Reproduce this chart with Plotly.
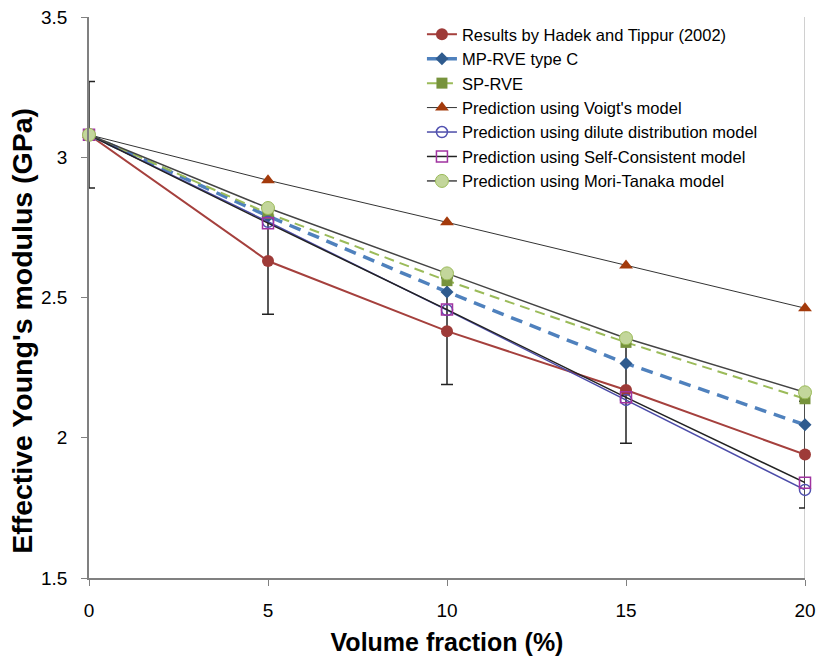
import plotly.graph_objects as go

volume_fraction = [0, 5, 10, 15, 20]
hadek = [3.08, 2.63, 2.38, 2.17, 1.94]
hadek_err = [0.19, 0.19, 0.19, 0.19, 0.19]
mp_rve_c = [3.08, 2.79, 2.52, 2.265, 2.046]
sp_rve = [3.08, 2.80, 2.56, 2.34, 2.139]
voigt = [3.08, 2.918, 2.768, 2.614, 2.462]
dilute = [3.08, 2.77, 2.455, 2.135, 1.814]
self_consistent = [3.08, 2.765, 2.457, 2.144, 1.84]
mori_tanaka = [3.08, 2.819, 2.586, 2.355, 2.162]

x_ticks = [0, 5, 10, 15, 20]
y_ticks = [1.5, 2, 2.5, 3, 3.5]
y_tick_text = ["1.5", "2", "2.5", "3", "3.5"]
x_title = "Volume fraction (%)"
y_title = "Effective Young's modulus (GPa)"

FONT = "Liberation Sans, Arial, sans-serif"

fig = go.Figure()

fig.add_trace(go.Scatter(
    x=volume_fraction, y=hadek, name="Results by Hadek and Tippur (2002)",
    mode="lines+markers", cliponaxis=False,
    line=dict(color="#A5403D", width=2),
    marker=dict(symbol="circle", size=12, color="#9E3B38"),
    error_y=dict(type="data", array=hadek_err, visible=True, color="#222222", thickness=1.5, width=6),
))
fig.add_trace(go.Scatter(
    x=volume_fraction, y=mp_rve_c, name="MP-RVE type C",
    mode="lines+markers", cliponaxis=False,
    line=dict(color="#4F81BD", width=3.5, dash="12px,8px"),
    marker=dict(symbol="diamond", size=10, color="#2F5B8E"),
))
fig.add_trace(go.Scatter(
    x=volume_fraction, y=sp_rve, name="SP-RVE",
    mode="lines+markers", cliponaxis=False,
    line=dict(color="#9BBB59", width=2, dash="10px,6px"),
    marker=dict(symbol="square", size=11, color="#77933C"),
))
fig.add_trace(go.Scatter(
    x=volume_fraction, y=voigt, name="Prediction using Voigt's model",
    mode="lines+markers", cliponaxis=False,
    line=dict(color="#333333", width=1),
    marker=dict(symbol="triangle-up", size=12, color="#A33A0B"),
))
fig.add_trace(go.Scatter(
    x=volume_fraction, y=dilute, name="Prediction using dilute distribution model",
    mode="lines+markers", cliponaxis=False,
    line=dict(color="#4B4BA8", width=1.5),
    marker=dict(symbol="circle-open", size=11, color="#5151B0", line=dict(width=1.5)),
))
fig.add_trace(go.Scatter(
    x=volume_fraction, y=self_consistent, name="Prediction using Self-Consistent model",
    mode="lines+markers", cliponaxis=False,
    line=dict(color="#222222", width=1.5),
    marker=dict(symbol="square-open", size=11, color="#A033A0", line=dict(width=1.5)),
))
fig.add_trace(go.Scatter(
    x=volume_fraction, y=mori_tanaka, name="Prediction using Mori-Tanaka model",
    mode="lines+markers", cliponaxis=False,
    line=dict(color="#444444", width=1.5),
    marker=dict(symbol="circle", size=13, color="#C3D69B", line=dict(color="#9BBB59", width=1)),
))

fig.add_shape(type="line", xref="x", yref="paper", x0=x_ticks[-1], x1=x_ticks[-1], y0=0, y1=1,
              line=dict(color="#A0A0A0", width=1), layer="below")

fig.add_annotation(
    text="<b>" + y_title + "</b>", textangle=-90, showarrow=False,
    xref="paper", yref="paper", x=-0.094, y=0.44, xanchor="center", yanchor="middle",
    font=dict(size=28.5, family=FONT, color="#000000"),
)

fig.update_layout(
    width=818, height=657,
    margin=dict(l=89, r=13, t=17, b=79),
    paper_bgcolor="white", plot_bgcolor="white",
    font=dict(family=FONT, color="#000000"),
    showlegend=True,
    legend=dict(
        x=0.465, y=1.0, xanchor="left", yanchor="top",
        font=dict(size=16.5, family=FONT),
        bgcolor="rgba(255,255,255,0)", tracegroupgap=0,
    ),
    xaxis=dict(
        range=[0, 20], tickvals=x_ticks, ticks="outside", ticklen=6, tickcolor="#808080",
        showline=True, linecolor="#808080", linewidth=1.5, showgrid=False, zeroline=False,
        tickfont=dict(size=19), ticklabelstandoff=8, automargin=False,
        title=dict(text="<b>" + x_title + "</b>", font=dict(size=25), standoff=14),
    ),
    yaxis=dict(
        range=[1.5, 3.5], tickvals=y_ticks, ticktext=y_tick_text,
        ticks="outside", ticklen=6, tickcolor="#808080",
        showline=True, linecolor="#808080", linewidth=1.5, showgrid=False, zeroline=False,
        tickfont=dict(size=19), ticklabelstandoff=10, automargin=False,
    ),
)

fig.write_html("out.html")
